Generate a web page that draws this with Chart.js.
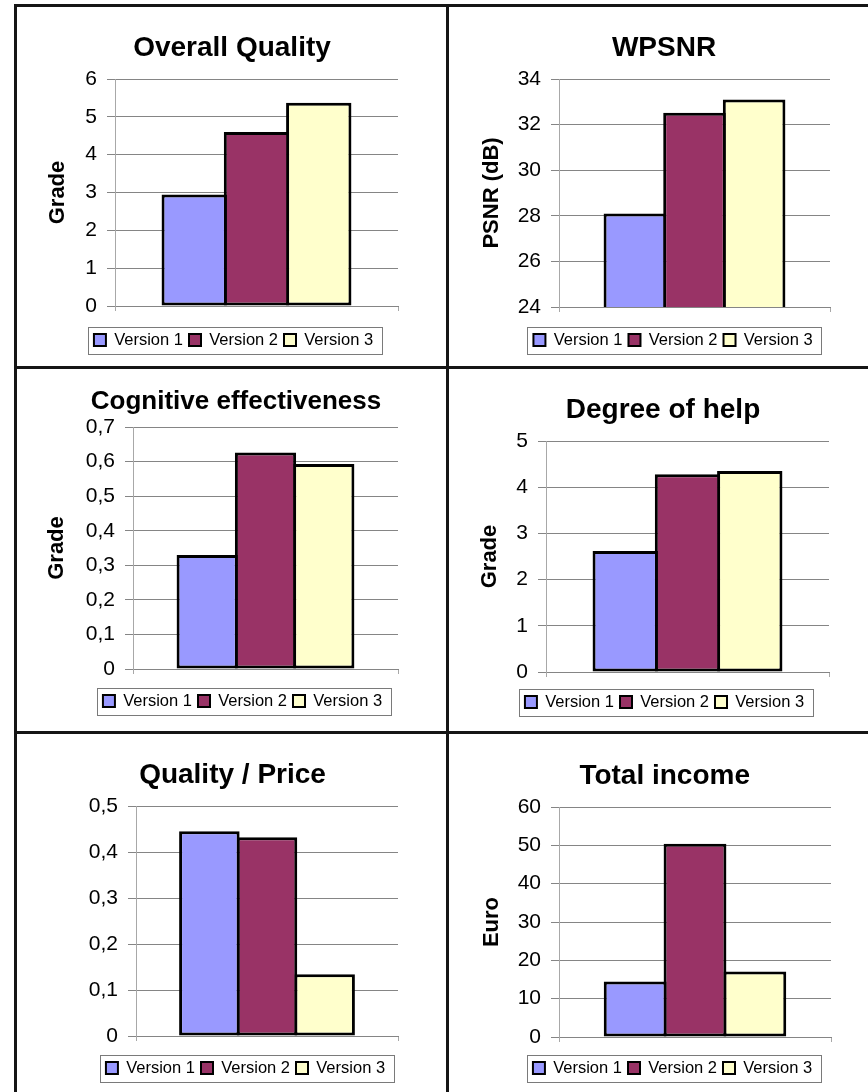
<!DOCTYPE html>
<html>
<head>
<meta charset="utf-8">
<title>Evaluation of the three versions</title>
<script src="https://cdn.jsdelivr.net/npm/chart.js@4.4.1/dist/chart.umd.min.js"></script>
<style>
  html, body { margin: 0; padding: 0; background: #ffffff; }
  body { width: 868px; height: 1092px; position: relative; overflow: hidden; }
  .rule { position: absolute; background: #151515; }
  canvas { position: absolute; display: block; }
</style>
</head>
<body>
<!-- frame lines between the six panels -->
<div class="rule" style="left:14px;top:4px;width:3px;height:1088px"></div>
<div class="rule" style="left:446px;top:4px;width:3px;height:1088px"></div>
<div class="rule" style="left:14px;top:4px;width:854px;height:3px"></div>
<div class="rule" style="left:14px;top:366px;width:854px;height:3px"></div>
<div class="rule" style="left:14px;top:731px;width:854px;height:3px"></div>

<canvas id="overall"></canvas>
<canvas id="wpsnr"></canvas>
<canvas id="cognitive"></canvas>
<canvas id="help"></canvas>
<canvas id="qprice"></canvas>
<canvas id="income"></canvas>

<script>
// ---- data ----
const versions = ['Version 1', 'Version 2', 'Version 3'];

const overallQuality = [2.95, 4.6, 5.37];
const wpsnrValues    = [28.1, 32.52, 33.1];
const cognitiveEff   = [0.33, 0.626, 0.593];
const degreeOfHelp   = [2.62, 4.28, 4.35];
const qualityPrice   = [0.445, 0.432, 0.134];
const totalIncome    = [14.5, 50.4, 17.1];

const overallTicks   = ['0', '1', '2', '3', '4', '5', '6'];
const wpsnrTicks     = ['24', '26', '28', '30', '32', '34'];
const cognitiveTicks = ['0', '0,1', '0,2', '0,3', '0,4', '0,5', '0,6', '0,7'];
const helpTicks      = ['0', '1', '2', '3', '4', '5'];
const qpriceTicks    = ['0', '0,1', '0,2', '0,3', '0,4', '0,5'];
const incomeTicks    = ['0', '10', '20', '30', '40', '50', '60'];

// ---- styling ----
const FONT = "'Liberation Sans', Arial, Helvetica, sans-serif";
const BAR_COLORS = ['#9999ff', '#993366', '#ffffcc'];
const GRID = '#858585';
const AXIS = '#a8a8a8';
const TITLE_LH = 1.2;
const AXIS_TITLE_SIZE = 22, AXIS_TITLE_LH = 1.2;
const TICK_SIZE = 21;
const LEGEND_SIZE = 16.5, LEGEND_BOX = 12, LEGEND_PAD = 6;

// Shifts title / legend horizontally to their anchors and draws the legend frame.
const panelDecor = {
  id: 'panelDecor',
  afterLayout(chart, args, opts) {
    const t = chart.titleBlock;
    if (t && opts.titleX != null) {
      const dx = opts.titleX - (t.left + t.right) / 2;
      t.left += dx; t.right += dx;
    }
    const l = chart.legend;
    if (l && opts.legendX != null) {
      const dx = opts.legendX - (l.left + l.right) / 2;
      l.left += dx; l.right += dx;
    }
  },
  afterDraw(chart) {
    const hb = chart.legend && chart.legend.legendHitBoxes;
    if (!hb || !hb.length) return;
    const left = Math.min(...hb.map(h => h.left));
    const right = Math.max(...hb.map(h => h.left + h.width));
    const top = Math.min(...hb.map(h => h.top));
    const bottom = Math.max(...hb.map(h => h.top + h.height));
    const ctx = chart.ctx;
    ctx.save();
    ctx.strokeStyle = '#7a7a7a';
    ctx.lineWidth = 1;
    ctx.strokeRect(Math.round(left - 6) + 0.5, Math.round(top - 5) + 0.5,
                   Math.round(right - left + 15), Math.round(bottom - top + 10));
    ctx.restore();
  }
};

function makePanel(id, frame, anchors, titleText, titleSize, axisTitle, values, scale) {
  const canvas = document.getElementById(id);
  canvas.width = frame.w; canvas.height = frame.h;
  canvas.style.left = frame.x + 'px'; canvas.style.top = frame.y + 'px';
  canvas.style.width = frame.w + 'px'; canvas.style.height = frame.h + 'px';

  const plotLeft = anchors.plotL - frame.x;
  const plotRight = anchors.plotR - frame.x;
  const plotTop = anchors.plotT - frame.y;
  const plotBottom = anchors.plotB - frame.y;

  const titleLineH = titleSize * TITLE_LH;
  const titlePadTop = (anchors.titleY - frame.y) - titleLineH / 2;
  const titlePadBottom = plotTop - titlePadTop - titleLineH;

  const itemH = Math.max(LEGEND_SIZE, LEGEND_BOX);
  const legendH = itemH + LEGEND_PAD + 10;
  const xAxisH = (anchors.legendY - frame.y) - plotBottom - LEGEND_PAD - itemH / 2;
  const padBottom = frame.h - plotBottom - xAxisH - legendH;

  const axisTitlePad = axisTitle ? (anchors.yTitleX - frame.x) - AXIS_TITLE_SIZE * AXIS_TITLE_LH / 2 : 0;

  return new Chart(canvas, {
    type: 'bar',
    data: {
      labels: [titleText],
      datasets: versions.map((name, i) => ({
        label: name,
        data: [values[i]],
        backgroundColor: BAR_COLORS[i],
        borderColor: '#000000',
        borderWidth: 3,
        borderSkipped: false,
        barPercentage: 1.05,
        categoryPercentage: 0.66
      }))
    },
    options: {
      responsive: false,
      devicePixelRatio: 1,
      animation: false,
      events: [],
      layout: { padding: { left: 0, right: frame.w - plotRight, top: 0, bottom: padBottom } },
      scales: {
        x: {
          ticks: { display: false },
          grid: { display: true, drawOnChartArea: false, drawTicks: true, tickLength: 5, color: AXIS, offset: true },
          border: { display: true, color: GRID, width: 1 },
          afterFit: s => { s.height = xAxisH; }
        },
        y: {
          min: scale.min, max: scale.max,
          ticks: {
            stepSize: scale.step,
            color: '#000000',
            padding: 10,
            font: { family: FONT, size: TICK_SIZE },
            callback: (v, i) => scale.labels[i] !== undefined ? scale.labels[i] : String(v)
          },
          grid: { color: GRID, lineWidth: 1, drawTicks: true, tickLength: 8 },
          border: { display: true, color: AXIS, width: 1 },
          title: {
            display: !!axisTitle,
            text: axisTitle || '',
            color: '#000000',
            font: { family: FONT, size: AXIS_TITLE_SIZE, weight: 'bold', lineHeight: AXIS_TITLE_LH },
            padding: { top: axisTitlePad, bottom: 0 }
          },
          afterFit: s => { s.width = plotLeft; }
        }
      },
      plugins: {
        tooltip: { enabled: false },
        title: {
          display: true,
          text: titleText,
          color: '#000000',
          font: { family: FONT, size: titleSize, weight: 'bold', lineHeight: TITLE_LH },
          padding: { top: titlePadTop, bottom: titlePadBottom }
        },
        legend: {
          position: 'bottom',
          labels: {
            boxWidth: LEGEND_BOX,
            boxHeight: LEGEND_BOX,
            padding: LEGEND_PAD,
            color: '#000000',
            font: { family: FONT, size: LEGEND_SIZE },
            generateLabels: chart => Chart.defaults.plugins.legend.labels.generateLabels(chart)
              .map(item => Object.assign(item, { lineWidth: 2, strokeStyle: '#000000' }))
          }
        },
        panelDecor: { titleX: anchors.titleX - frame.x, legendX: anchors.legendX - frame.x }
      }
    },
    plugins: [panelDecor]
  });
}

// panel boxes inside the frame lines
const LEFT = { x: 17, w: 429 }, RIGHT = { x: 449, w: 419 };
const ROW1 = { y: 7, h: 359 }, ROW2 = { y: 369, h: 362 }, ROW3 = { y: 734, h: 358 };
const box = (c, r) => ({ x: c.x, y: r.y, w: c.w, h: r.h });

makePanel('overall', box(LEFT, ROW1),
  { plotL: 115, plotR: 398, plotT: 79, plotB: 306, titleX: 232, titleY: 48, yTitleX: 58, legendX: 233.5, legendY: 340 },
  'Overall Quality', 28, 'Grade', overallQuality,
  { min: 0, max: 6, step: 1, labels: overallTicks });

makePanel('wpsnr', box(RIGHT, ROW1),
  { plotL: 559, plotR: 830, plotT: 79, plotB: 307, titleX: 664, titleY: 48, yTitleX: 492, legendX: 673, legendY: 340 },
  'WPSNR', 28, 'PSNR (dB)', wpsnrValues,
  { min: 24, max: 34, step: 2, labels: wpsnrTicks });

makePanel('cognitive', box(LEFT, ROW2),
  { plotL: 133, plotR: 398, plotT: 427, plotB: 669, titleX: 236, titleY: 402, yTitleX: 57, legendX: 242.5, legendY: 701 },
  'Cognitive effectiveness', 26, 'Grade', cognitiveEff,
  { min: 0, max: 0.7, step: 0.1, labels: cognitiveTicks });

makePanel('help', box(RIGHT, ROW2),
  { plotL: 546, plotR: 829, plotT: 441, plotB: 672, titleX: 663, titleY: 410, yTitleX: 490, legendX: 664.5, legendY: 702 },
  'Degree of help', 28, 'Grade', degreeOfHelp,
  { min: 0, max: 5, step: 1, labels: helpTicks });

makePanel('qprice', box(LEFT, ROW3),
  { plotL: 136, plotR: 398, plotT: 806, plotB: 1036, titleX: 232.5, titleY: 775, yTitleX: null, legendX: 245.5, legendY: 1068 },
  'Quality / Price', 28, null, qualityPrice,
  { min: 0, max: 0.5, step: 0.1, labels: qpriceTicks });

makePanel('income', box(RIGHT, ROW3),
  { plotL: 559, plotR: 831, plotT: 807, plotB: 1037, titleX: 664.7, titleY: 776, yTitleX: 492, legendX: 672.5, legendY: 1068 },
  'Total income', 28, 'Euro', totalIncome,
  { min: 0, max: 60, step: 10, labels: incomeTicks });
</script>
</body>
</html>
